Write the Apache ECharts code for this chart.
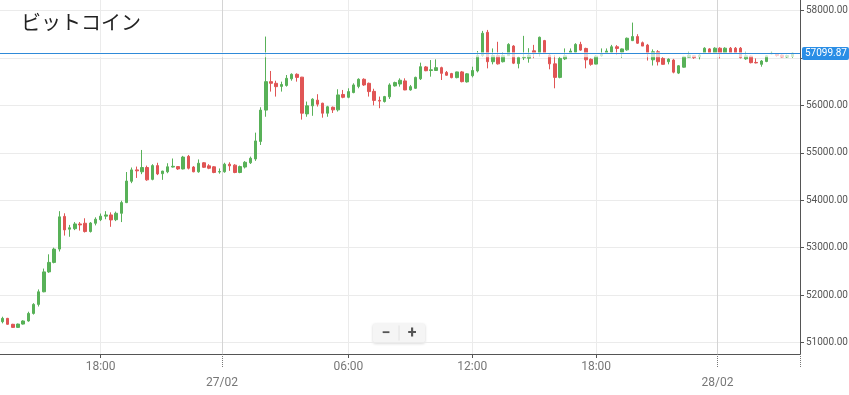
<!DOCTYPE html>
<html>
<head>
<meta charset="utf-8">
<script src="https://cdn.jsdelivr.net/npm/echarts@6/dist/echarts.min.js"></script>
<style>
html,body{margin:0;padding:0;background:#fff;}
#chart{width:849px;height:395px;}
</style>
</head>
<body>
<div id="chart"></div>
<script>
const chartTitle = 'ビットコイン';

const categories = [
"26/02 13:15","26/02 13:30","26/02 13:45","26/02 14:00","26/02 14:15","26/02 14:30","26/02 14:45","26/02 15:00","26/02 15:15","26/02 15:30","26/02 15:45",
"26/02 16:00","26/02 16:15","26/02 16:30","26/02 16:45","26/02 17:00","26/02 17:15","26/02 17:30","26/02 17:45","26/02 18:00","26/02 18:15","26/02 18:30","26/02 18:45",
"26/02 19:00","26/02 19:15","26/02 19:30","26/02 19:45","26/02 20:00","26/02 20:15","26/02 20:30","26/02 20:45","26/02 21:00","26/02 21:15","26/02 21:30","26/02 21:45",
"26/02 22:00","26/02 22:15","26/02 22:30","26/02 22:45","26/02 23:00","26/02 23:15","26/02 23:30","26/02 23:45",
"27/02 00:00","27/02 00:15","27/02 00:30","27/02 00:45","27/02 01:00","27/02 01:15","27/02 01:30","27/02 01:45","27/02 02:00","27/02 02:15","27/02 02:30","27/02 02:45",
"27/02 03:00","27/02 03:15","27/02 03:30","27/02 03:45","27/02 04:00","27/02 04:15","27/02 04:30","27/02 04:45","27/02 05:00","27/02 05:15","27/02 05:30","27/02 05:45",
"27/02 06:00","27/02 06:15","27/02 06:30","27/02 06:45","27/02 07:00","27/02 07:15","27/02 07:30","27/02 07:45","27/02 08:00","27/02 08:15","27/02 08:30","27/02 08:45",
"27/02 09:00","27/02 09:15","27/02 09:30","27/02 09:45","27/02 10:00","27/02 10:15","27/02 10:30","27/02 10:45","27/02 11:00","27/02 11:15","27/02 11:30","27/02 11:45",
"27/02 12:00","27/02 12:15","27/02 12:30","27/02 12:45","27/02 13:00","27/02 13:15","27/02 13:30","27/02 13:45","27/02 14:00","27/02 14:15","27/02 14:30","27/02 14:45",
"27/02 15:00","27/02 15:15","27/02 15:30","27/02 15:45","27/02 16:00","27/02 16:15","27/02 16:30","27/02 16:45","27/02 17:00","27/02 17:15","27/02 17:30","27/02 17:45",
"27/02 18:00","27/02 18:15","27/02 18:30","27/02 18:45","27/02 19:00","27/02 19:15","27/02 19:30","27/02 19:45","27/02 20:00","27/02 20:15","27/02 20:30","27/02 20:45",
"27/02 21:00","27/02 21:15","27/02 21:30","27/02 21:45","27/02 22:00","27/02 22:15","27/02 22:30","27/02 22:45","27/02 23:00","27/02 23:15","27/02 23:30","27/02 23:45",
"28/02 00:00","28/02 00:15","28/02 00:30","28/02 00:45","28/02 01:00","28/02 01:15","28/02 01:30","28/02 01:45","28/02 02:00","28/02 02:15","28/02 02:30","28/02 02:45",
"28/02 03:00","28/02 03:15","28/02 03:30","28/02 03:45"
];

const timeTicks = ["26/02 18:00","27/02 06:00","27/02 12:00","27/02 18:00"];
const dateTicks = ["27/02 00:00","28/02 00:00"];

const openP = [
51440,51510,51385,51320,51390,51455,51615,51805,52070,52490,52690,52970,53660,53390,53400,53500,53515,53340,53515,53590,
53665,53690,53590,53725,53950,54400,54640,54600,54690,54440,54730,54560,54600,54700,54710,54660,54925,54700,54600,54790,
54725,54705,54595,54600,54760,54740,54585,54700,54790,54870,55240,55900,56500,56465,56400,56420,56560,56655,56595,55820,
55990,56110,56045,55835,55960,55905,56230,56170,56270,56400,56550,56465,56295,56105,56080,56180,56410,56450,56515,56325,
56360,56560,56810,56735,56735,56795,56695,56670,56585,56705,56495,56625,56725,57050,57540,56920,57050,56920,57050,57250,
56880,57005,56995,57150,57110,57365,57060,56875,56590,56980,57110,57120,57285,57200,56970,56870,57045,57110,57120,57235,
57120,57170,57365,57450,57320,57270,56960,57130,56990,56920,56955,56680,56805,57015,57045,57025,57110,57190,57110,57205,
57110,57205,57205,57205,56980,57040,56905,56865,56925,57085,57085,57060,57020,57030
];
const closeP = [
51510,51385,51320,51390,51455,51615,51805,52070,52490,52690,52970,53650,53375,53420,53500,53480,53340,53520,53600,53665,
53690,53585,53725,53950,54405,54640,54620,54690,54430,54730,54555,54615,54705,54715,54660,54910,54675,54600,54780,54695,
54675,54585,54605,54760,54725,54585,54710,54800,54885,55250,55900,56500,56465,56395,56440,56570,56655,56590,55835,55990,
56130,56025,55835,55970,55905,56220,56170,56290,56430,56550,56430,56290,56105,56090,56185,56430,56480,56530,56325,56395,
56590,56815,56730,56750,56795,56675,56635,56585,56705,56500,56665,56735,57050,57520,56920,57050,56875,57050,57285,56890,
57010,57015,57060,57110,57435,57110,56875,56590,56990,57045,57145,57285,57165,56960,56865,57040,57075,57145,57235,57200,
57190,57415,57450,57310,57250,57110,57130,56920,56865,56975,56700,56835,57025,57060,57005,57060,57205,57110,57205,57110,
57205,57110,57110,57005,57045,56900,56895,56935,57045,57100,57050,57020,57050,57099.87
];
const highP = [
51545,51520,51395,51400,51470,51650,51830,52120,52560,52860,53000,53770,53725,53480,53540,53540,53620,53540,53640,53720,
53770,53745,53760,53990,54595,54690,54710,55060,54730,54760,54790,54620,54780,54880,54720,54935,54955,54720,54860,54805,
54760,54720,54670,54790,54800,54760,54730,54825,54920,55425,55960,57450,56725,56520,56500,56640,56675,56675,56600,56080,
56150,56235,56055,55990,55975,56340,56325,56360,56465,56570,56570,56480,56350,56185,56200,56465,56500,56570,56570,56430,
56605,56900,56830,56955,56970,56815,56725,56685,56710,56725,56680,56815,57145,57570,57590,57200,57340,57120,57310,57270,
57030,57465,57205,57275,57450,57380,57085,57060,57025,57200,57200,57310,57340,57215,56990,57060,57200,57200,57275,57270,
57200,57430,57745,57500,57345,57295,57180,57165,57020,56990,56980,56850,57045,57130,57060,57095,57225,57205,57225,57225,
57225,57230,57230,57230,57130,57050,56990,56955,57060,57130,57100,57075,57070,57110
];
const lowP = [
51405,51375,51310,51310,51380,51440,51590,51760,52060,52470,52670,52920,53255,53230,53370,53360,53320,53320,53470,53560,
53600,53440,53560,53540,53940,54360,54470,54550,54410,54420,54530,54430,54570,54690,54640,54650,54650,54590,54580,54680,
54655,54570,54560,54580,54620,54570,54570,54670,54765,54830,55165,55760,56290,56185,56290,56395,56520,56500,55700,55760,
55780,55975,55740,55760,55840,55870,56150,56150,56255,56360,56410,56185,56000,55940,56060,56135,56395,56395,56320,56310,
56345,56535,56720,56605,56725,56535,56625,56570,56570,56485,56480,56590,56695,57020,56780,56865,56860,56905,57040,56870,
56780,56955,56900,56995,57030,57095,56760,56360,56570,56955,57100,57110,57150,56780,56835,56865,57025,57100,57110,57060,
57000,57150,57355,57295,57250,56945,56840,56840,56860,56865,56675,56660,56795,57005,56980,56970,57110,57105,57105,56990,
57105,57095,57105,56990,56960,56885,56885,56815,56910,57075,57025,57010,57000,57000
];

const lastPrice = closeP[closeP.length - 1];
const yMin = 50759, yMax = 58221;

const candleData = openP.map((o, i) => [o, closeP[i], lowP[i], highP[i]]);

const UP = '#58b158', DOWN = '#e05555', PRICE = '#2f8ad8', PRICE_BG = '#2a8ee6';
const isTime = (i, v) => timeTicks.indexOf(v) >= 0;
const isDate = (i, v) => dateTicks.indexOf(v) >= 0;

const chart = echarts.init(document.getElementById('chart'), null, {renderer: 'canvas'});
chart.setOption({
  animation: false,
  backgroundColor: '#ffffff',
  title: {
    text: chartTitle, left: 16, top: 7,
    textStyle: {fontFamily: 'Noto Sans CJK JP', fontSize: 20, fontWeight: 'normal', color: '#222'}
  },
  grid: {left: 0, right: 49, top: 0, bottom: 41, containLabel: false, outerBoundsMode: 'none'},
  xAxis: [
    {
      type: 'category', data: categories, boundaryGap: true, position: 'bottom', offset: 0,
      axisLine: {show: true, onZero: false, lineStyle: {color: '#555', width: 1}},
      axisTick: {show: true, alignWithLabel: true, length: 4, interval: isTime, lineStyle: {color: '#555'}},
      axisLabel: {interval: isTime, formatter: v => v.slice(6), color: '#777', fontSize: 12, fontFamily: 'Roboto', margin: 7},
      splitLine: {show: true, interval: isTime, alignWithLabel: true, lineStyle: {color: '#ebebeb', width: 1}}
    },
    {
      type: 'category', data: categories, boundaryGap: true, position: 'bottom', offset: 0,
      axisLine: {show: false, onZero: false},
      axisTick: {show: true, length: 13, interval: isDate, lineStyle: {color: '#777', type: 'dotted'}},
      axisLabel: {interval: isDate, formatter: v => v.slice(0, 5), color: '#777', fontSize: 12, fontFamily: 'Roboto', margin: 23, padding: [0, 5, 0, 0]},
      splitLine: {show: true, interval: isDate, showMinLine: true, showMaxLine: false, lineStyle: {color: '#d4d4d4', width: 1}}
    }
  ],
  yAxis: {
    type: 'value', position: 'right', min: yMin, max: yMax, splitNumber: 7, scale: true,
    axisLine: {show: true, lineStyle: {color: '#555'}},
    axisTick: {show: true, length: 4, lineStyle: {color: '#555'}},
    axisLabel: {formatter: v => v.toFixed(2), color: '#555', fontSize: 10, fontFamily: 'Roboto', margin: 6, showMinLabel: false, showMaxLabel: false},
    splitLine: {show: true, showMinLine: false, showMaxLine: false, lineStyle: {color: '#ebebeb'}}
  },
  series: [
    {
      type: 'candlestick', xAxisIndex: 0, data: candleData, z: 2,
      barWidth: 3,
      itemStyle: {color: UP, color0: DOWN, borderColor: UP, borderColor0: DOWN, borderWidth: 1},
      emphasis: {disabled: true}, silent: true
    },
    {
      type: 'custom', xAxisIndex: 0, z: 5, silent: true, clip: false,
      data: [[0, lastPrice]],
      renderItem: (params, api) => {
        const cs = params.coordSys;
        const price = api.value(1);
        const yLine = Math.round(api.coord([0, price])[1]) + 0.5;
        const yTop = api.coord([0, price + 20])[1];
        const yBot = api.coord([0, price - 85])[1];
        return {
          type: 'group',
          children: [
            {type: 'rect', shape: {x: cs.x, y: yTop, width: cs.width, height: yBot - yTop},
             style: {fill: 'rgba(255,255,255,0.72)'}},
            {type: 'line', shape: {x1: cs.x, y1: yLine, x2: cs.x + cs.width, y2: yLine},
             style: {stroke: PRICE, lineWidth: 1}},
            {type: 'text', x: cs.x + cs.width + 2, y: yLine,
             style: {text: price.toFixed(2), fill: '#fff', backgroundColor: PRICE_BG,
                     padding: [2, 2, 1, 3], borderRadius: 2, font: '10px Roboto',
                     align: 'left', verticalAlign: 'middle'}}
          ]
        };
      }
    }
  ],
  graphic: [
    {
      type: 'group', left: 373, top: 323, silent: true,
      children: [
        {type: 'rect', shape: {x: 0, y: 0, width: 52, height: 19, r: 2},
         style: {fill: '#f5f5f5', shadowBlur: 3, shadowColor: 'rgba(0,0,0,0.18)', shadowOffsetY: 1}},
        {type: 'line', shape: {x1: 26, y1: 2, x2: 26, y2: 17}, style: {stroke: '#e2e2e2', lineWidth: 1}},
        {type: 'text', x: 13, y: 10, style: {text: '−', fill: '#555', font: 'bold 16px Roboto', align: 'center', verticalAlign: 'middle'}},
        {type: 'text', x: 39, y: 10, style: {text: '+', fill: '#555', font: 'bold 16px Roboto', align: 'center', verticalAlign: 'middle'}}
      ]
    }
  ]
});
</script>
</body>
</html>
